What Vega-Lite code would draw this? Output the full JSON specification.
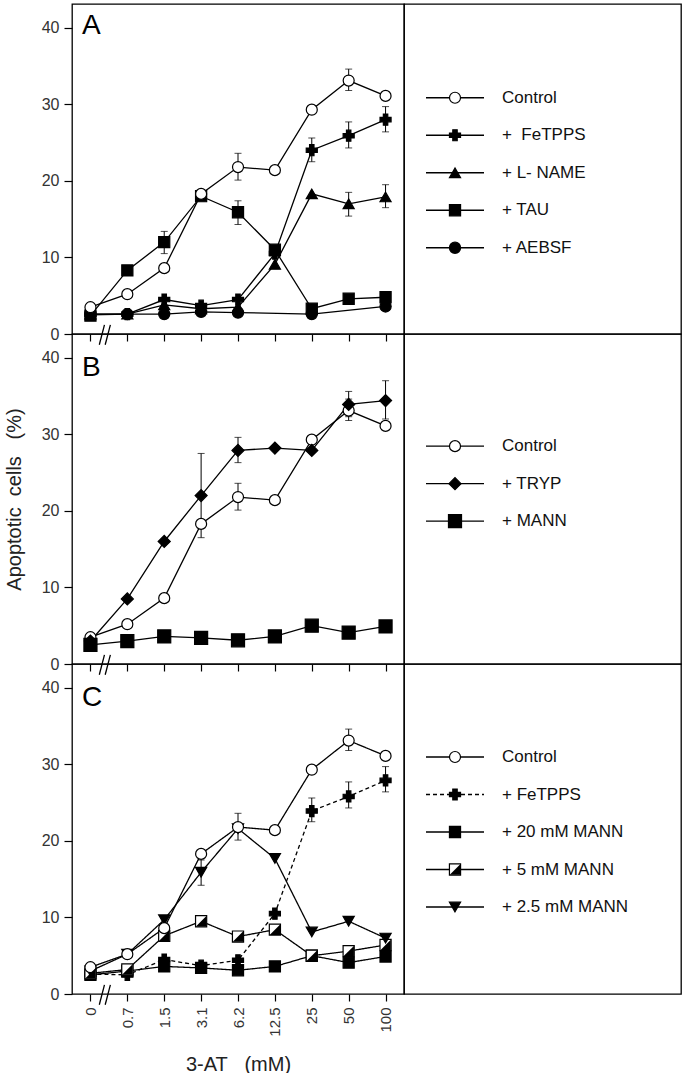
{
  "$schema": "https://vega.github.io/schema/vega-lite/v6.json",
  "padding": {"left": 3, "top": 3, "right": 0, "bottom": 0},
  "background": "white",
  "columns": 2,
  "spacing": 0,
  "bounds": "flush",
  "config": {
    "font": "Liberation Sans",
    "view": {"stroke": "black", "strokeWidth": 1.3},
    "axisX": {"tickSize": 7, "tickColor": "black", "tickWidth": 1.2, "domain": false, "grid": false, "labelFontSize": 15, "labelAngle": 270, "labelPadding": 6, "labelColor": "#333", "titleFontSize": 20, "titleFontWeight": "normal", "titlePadding": 18, "titleColor": "#222"},
    "axisY": {"tickSize": 8, "tickColor": "black", "tickWidth": 1.2, "domain": false, "grid": false, "labelFontSize": 16, "labelPadding": 5, "labelColor": "#333", "titleFontSize": 20, "titleFontWeight": "normal", "titlePadding": 17, "titleColor": "#222"}
  },
  "datasets": {
    "A": [
      {"s": "+ AEBSF", "i": 0, "y": 2.5}, {"s": "+ AEBSF", "i": 1, "y": 2.6}, {"s": "+ AEBSF", "i": 2, "y": 2.6}, {"s": "+ AEBSF", "i": 3, "y": 2.9}, {"s": "+ AEBSF", "i": 4, "y": 2.8}, {"s": "+ AEBSF", "i": 6, "y": 2.6}, {"s": "+ AEBSF", "i": 8, "y": 3.6},
      {"s": "+ L- NAME", "i": 0, "y": 2.6}, {"s": "+ L- NAME", "i": 1, "y": 2.6}, {"s": "+ L- NAME", "i": 2, "y": 3.8}, {"s": "+ L- NAME", "i": 3, "y": 3.3}, {"s": "+ L- NAME", "i": 4, "y": 3.5}, {"s": "+ L- NAME", "i": 5, "y": 9.1}, {"s": "+ L- NAME", "i": 6, "y": 18.3}, {"s": "+ L- NAME", "i": 7, "y": 17.0, "lo": 15.4, "hi": 18.5}, {"s": "+ L- NAME", "i": 8, "y": 17.9, "lo": 16.5, "hi": 19.5},
      {"s": "+\u00a0 FeTPPS", "i": 0, "y": 2.6}, {"s": "+\u00a0 FeTPPS", "i": 1, "y": 2.6}, {"s": "+\u00a0 FeTPPS", "i": 2, "y": 4.5}, {"s": "+\u00a0 FeTPPS", "i": 3, "y": 3.7}, {"s": "+\u00a0 FeTPPS", "i": 4, "y": 4.5}, {"s": "+\u00a0 FeTPPS", "i": 5, "y": 10.5}, {"s": "+\u00a0 FeTPPS", "i": 6, "y": 24.0, "lo": 22.5, "hi": 25.6}, {"s": "+\u00a0 FeTPPS", "i": 7, "y": 25.9, "lo": 24.3, "hi": 27.7}, {"s": "+\u00a0 FeTPPS", "i": 8, "y": 28.0, "lo": 26.4, "hi": 29.7},
      {"s": "+ TAU", "i": 0, "y": 2.4}, {"s": "+ TAU", "i": 1, "y": 8.3}, {"s": "+ TAU", "i": 2, "y": 12.0, "lo": 10.5, "hi": 13.4}, {"s": "+ TAU", "i": 3, "y": 18.0}, {"s": "+ TAU", "i": 4, "y": 15.9, "lo": 14.3, "hi": 17.4}, {"s": "+ TAU", "i": 5, "y": 11.0}, {"s": "+ TAU", "i": 6, "y": 3.3}, {"s": "+ TAU", "i": 7, "y": 4.6}, {"s": "+ TAU", "i": 8, "y": 4.8},
      {"s": "Control", "i": 0, "y": 3.5}, {"s": "Control", "i": 1, "y": 5.2}, {"s": "Control", "i": 2, "y": 8.6}, {"s": "Control", "i": 3, "y": 18.3}, {"s": "Control", "i": 4, "y": 21.8, "lo": 20.1, "hi": 23.6}, {"s": "Control", "i": 5, "y": 21.4}, {"s": "Control", "i": 6, "y": 29.3}, {"s": "Control", "i": 7, "y": 33.1, "lo": 31.8, "hi": 34.6}, {"s": "Control", "i": 8, "y": 31.1}
    ],
    "B": [
      {"s": "Control", "i": 0, "y": 3.5}, {"s": "Control", "i": 1, "y": 5.2}, {"s": "Control", "i": 2, "y": 8.6}, {"s": "Control", "i": 3, "y": 18.3}, {"s": "Control", "i": 4, "y": 21.8, "lo": 20.1, "hi": 23.6}, {"s": "Control", "i": 5, "y": 21.4}, {"s": "Control", "i": 6, "y": 29.3}, {"s": "Control", "i": 7, "y": 33.1, "lo": 31.8, "hi": 34.6}, {"s": "Control", "i": 8, "y": 31.1},
      {"s": "+ TRYP", "i": 0, "y": 3.0}, {"s": "+ TRYP", "i": 1, "y": 8.5}, {"s": "+ TRYP", "i": 2, "y": 16.0}, {"s": "+ TRYP", "i": 3, "y": 22.0, "lo": 16.5, "hi": 27.5}, {"s": "+ TRYP", "i": 4, "y": 27.9, "lo": 26.3, "hi": 29.6}, {"s": "+ TRYP", "i": 5, "y": 28.2}, {"s": "+ TRYP", "i": 6, "y": 27.9}, {"s": "+ TRYP", "i": 7, "y": 33.9, "lo": 32.3, "hi": 35.6}, {"s": "+ TRYP", "i": 8, "y": 34.4, "lo": 32.0, "hi": 37.0},
      {"s": "+ MANN", "i": 0, "y": 2.5}, {"s": "+ MANN", "i": 1, "y": 3.0}, {"s": "+ MANN", "i": 2, "y": 3.6}, {"s": "+ MANN", "i": 3, "y": 3.4}, {"s": "+ MANN", "i": 4, "y": 3.1}, {"s": "+ MANN", "i": 5, "y": 3.6}, {"s": "+ MANN", "i": 6, "y": 5.0}, {"s": "+ MANN", "i": 7, "y": 4.1}, {"s": "+ MANN", "i": 8, "y": 4.9}
    ],
    "C": [
      {"s": "+ FeTPPS", "i": 0, "y": 2.6}, {"s": "+ FeTPPS", "i": 1, "y": 2.5}, {"s": "+ FeTPPS", "i": 2, "y": 4.5}, {"s": "+ FeTPPS", "i": 3, "y": 3.7}, {"s": "+ FeTPPS", "i": 4, "y": 4.4}, {"s": "+ FeTPPS", "i": 5, "y": 10.5}, {"s": "+ FeTPPS", "i": 6, "y": 23.9, "lo": 22.5, "hi": 25.6}, {"s": "+ FeTPPS", "i": 7, "y": 25.8, "lo": 24.3, "hi": 27.7}, {"s": "+ FeTPPS", "i": 8, "y": 27.9, "lo": 26.4, "hi": 29.7},
      {"s": "+ 20 mM MANN", "i": 0, "y": 2.5}, {"s": "+ 20 mM MANN", "i": 1, "y": 3.0}, {"s": "+ 20 mM MANN", "i": 2, "y": 3.6}, {"s": "+ 20 mM MANN", "i": 3, "y": 3.4}, {"s": "+ 20 mM MANN", "i": 4, "y": 3.1}, {"s": "+ 20 mM MANN", "i": 5, "y": 3.6}, {"s": "+ 20 mM MANN", "i": 6, "y": 5.0}, {"s": "+ 20 mM MANN", "i": 7, "y": 4.1}, {"s": "+ 20 mM MANN", "i": 8, "y": 4.9},
      {"s": "+ 5 mM MANN", "i": 0, "y": 2.7}, {"s": "+ 5 mM MANN", "i": 1, "y": 3.2}, {"s": "+ 5 mM MANN", "i": 2, "y": 7.6}, {"s": "+ 5 mM MANN", "i": 3, "y": 9.5}, {"s": "+ 5 mM MANN", "i": 4, "y": 7.5}, {"s": "+ 5 mM MANN", "i": 5, "y": 8.4}, {"s": "+ 5 mM MANN", "i": 6, "y": 5.0}, {"s": "+ 5 mM MANN", "i": 7, "y": 5.6}, {"s": "+ 5 mM MANN", "i": 8, "y": 6.4},
      {"s": "+ 2.5 mM MANN", "i": 0, "y": 3.0}, {"s": "+ 2.5 mM MANN", "i": 1, "y": 5.2}, {"s": "+ 2.5 mM MANN", "i": 2, "y": 9.7}, {"s": "+ 2.5 mM MANN", "i": 3, "y": 15.9, "lo": 14.2, "hi": 17.5}, {"s": "+ 2.5 mM MANN", "i": 4, "y": 21.6}, {"s": "+ 2.5 mM MANN", "i": 5, "y": 17.7}, {"s": "+ 2.5 mM MANN", "i": 6, "y": 8.1}, {"s": "+ 2.5 mM MANN", "i": 7, "y": 9.5}, {"s": "+ 2.5 mM MANN", "i": 8, "y": 7.3},
      {"s": "Control", "i": 0, "y": 3.5}, {"s": "Control", "i": 1, "y": 5.2}, {"s": "Control", "i": 2, "y": 8.6}, {"s": "Control", "i": 3, "y": 18.3}, {"s": "Control", "i": 4, "y": 21.8, "lo": 20.1, "hi": 23.6}, {"s": "Control", "i": 5, "y": 21.4}, {"s": "Control", "i": 6, "y": 29.3}, {"s": "Control", "i": 7, "y": 33.1, "lo": 31.8, "hi": 34.6}, {"s": "Control", "i": 8, "y": 31.1}
    ],
    "LA": [{"s": "Control", "k": 1}, {"s": "+\u00a0 FeTPPS", "k": 2}, {"s": "+ L- NAME", "k": 3}, {"s": "+ TAU", "k": 4}, {"s": "+ AEBSF", "k": 5}],
    "LB": [{"s": "Control", "k": 1}, {"s": "+ TRYP", "k": 2}, {"s": "+ MANN", "k": 3}],
    "LC": [{"s": "Control", "k": 1}, {"s": "+ FeTPPS", "k": 2}, {"s": "+ 20 mM MANN", "k": 3}, {"s": "+ 5 mM MANN", "k": 4}, {"s": "+ 2.5 mM MANN", "k": 5}]
  },
  "resolve": {"scale": {"shape": "independent", "fill": "independent", "size": "independent", "strokeDash": "independent"}},
  "concat": [
    {
      "width": 332, "height": 330,
      "data": {"name": "A"},
      "layer": [
        {"transform": [{"filter": "isValid(datum.lo)"}], "mark": {"type": "rule", "color": "black", "strokeWidth": 1},
         "encoding": {"x": {"field": "i", "type": "quantitative", "scale": {"domain": [-0.5, 8.5], "nice": false, "zero": false}, "axis": {"values": [0, 1, 2, 3, 4, 5, 6, 7, 8], "labels": false, "title": null}},
                      "y": {"field": "lo", "type": "quantitative", "scale": {"domain": [0, 43.1], "nice": false, "zero": false}, "axis": {"values": [0, 10, 20, 30, 40], "title": null}},
                      "y2": {"field": "hi"}}},
        {"transform": [{"filter": "isValid(datum.lo)"}], "mark": {"type": "tick", "orient": "horizontal", "size": 7, "thickness": 1, "color": "black"},
         "encoding": {"x": {"field": "i", "type": "quantitative"}, "y": {"field": "lo", "type": "quantitative"}}},
        {"transform": [{"filter": "isValid(datum.hi)"}], "mark": {"type": "tick", "orient": "horizontal", "size": 7, "thickness": 1, "color": "black"},
         "encoding": {"x": {"field": "i", "type": "quantitative"}, "y": {"field": "hi", "type": "quantitative"}}},
        {"mark": {"type": "line", "color": "black", "strokeWidth": 1.3},
         "encoding": {"x": {"field": "i", "type": "quantitative"}, "y": {"field": "y", "type": "quantitative"}, "detail": {"field": "s"}}},
        {"mark": {"type": "point", "filled": true, "stroke": "black", "strokeWidth": 1.2, "opacity": 1},
         "encoding": {"x": {"field": "i", "type": "quantitative"}, "y": {"field": "y", "type": "quantitative"},
           "shape": {"field": "s", "type": "nominal", "legend": null, "scale": {"domain": ["Control", "+\u00a0 FeTPPS", "+ L- NAME", "+ TAU", "+ AEBSF"], "range": ["circle", "cross", "triangle-up", "square", "circle"]}},
           "fill": {"field": "s", "type": "nominal", "legend": null, "scale": {"domain": ["Control", "+\u00a0 FeTPPS", "+ L- NAME", "+ TAU", "+ AEBSF"], "range": ["white", "black", "black", "black", "black"]}},
           "size": {"field": "s", "type": "nominal", "legend": null, "scale": {"domain": ["Control", "+\u00a0 FeTPPS", "+ L- NAME", "+ TAU", "+ AEBSF"], "range": [121, 125, 140, 110, 121]}}}},
        {"data": {"values": [{"b": 1}]}, "mark": {"type": "rule", "color": "black", "strokeWidth": 1.3},
         "encoding": {"x": {"datum": 0.24, "type": "quantitative"}, "x2": {"datum": 0.38}, "y": {"datum": -1.4, "type": "quantitative"}, "y2": {"datum": 1.2}}},
        {"data": {"values": [{"b": 2}]}, "mark": {"type": "rule", "color": "black", "strokeWidth": 1.3},
         "encoding": {"x": {"datum": 0.4, "type": "quantitative"}, "x2": {"datum": 0.54}, "y": {"datum": -1.4, "type": "quantitative"}, "y2": {"datum": 1.2}}},
        {"data": {"values": [{"t": "A"}]}, "mark": {"type": "text", "align": "left", "baseline": "alphabetic", "fontSize": 28, "color": "black"},
         "encoding": {"x": {"datum": -0.23, "type": "quantitative"}, "y": {"datum": 39.2, "type": "quantitative"}, "text": {"field": "t"}}}
      ]
    },
    {
      "width": 277, "height": 330,
      "data": {"name": "LA"},
      "layer": [
        {"mark": {"type": "rule", "color": "black", "strokeWidth": 1.3},
         "encoding": {"x": {"datum": 22, "type": "quantitative", "scale": {"domain": [0, 277], "nice": false, "zero": false}, "axis": null}, "x2": {"datum": 80},
                      "y": {"field": "k", "type": "quantitative", "scale": {"domain": [-1.5, 7.3], "reverse": true, "nice": false, "zero": false}, "axis": null}}},
        {"mark": {"type": "point", "filled": true, "stroke": "black", "strokeWidth": 1.2, "opacity": 1},
         "encoding": {"x": {"datum": 51, "type": "quantitative", "axis": null}, "y": {"field": "k", "type": "quantitative", "axis": null},
           "shape": {"field": "s", "type": "nominal", "legend": null, "scale": {"domain": ["Control", "+\u00a0 FeTPPS", "+ L- NAME", "+ TAU", "+ AEBSF"], "range": ["circle", "cross", "triangle-up", "square", "circle"]}},
           "fill": {"field": "s", "type": "nominal", "legend": null, "scale": {"domain": ["Control", "+\u00a0 FeTPPS", "+ L- NAME", "+ TAU", "+ AEBSF"], "range": ["white", "black", "black", "black", "black"]}},
           "size": {"field": "s", "type": "nominal", "legend": null, "scale": {"domain": ["Control", "+\u00a0 FeTPPS", "+ L- NAME", "+ TAU", "+ AEBSF"], "range": [121, 125, 140, 110, 121]}}}},
        {"mark": {"type": "text", "align": "left", "baseline": "middle", "fontSize": 17, "color": "#111"},
         "encoding": {"x": {"datum": 98, "type": "quantitative", "axis": null}, "y": {"field": "k", "type": "quantitative", "axis": null}, "text": {"field": "s"}}}
      ]
    },
    {
      "width": 332, "height": 330,
      "data": {"name": "B"},
      "layer": [
        {"transform": [{"filter": "isValid(datum.lo)"}], "mark": {"type": "rule", "color": "black", "strokeWidth": 1},
         "encoding": {"x": {"field": "i", "type": "quantitative", "scale": {"domain": [-0.5, 8.5], "nice": false, "zero": false}, "axis": {"values": [0, 1, 2, 3, 4, 5, 6, 7, 8], "labels": false, "title": null}},
                      "y": {"field": "lo", "type": "quantitative", "scale": {"domain": [0, 43.1], "nice": false, "zero": false}, "axis": {"values": [0, 10, 20, 30, 40], "title": "Apoptotic\u00a0 cells\u00a0\u00a0 (%)"}},
                      "y2": {"field": "hi"}}},
        {"transform": [{"filter": "isValid(datum.lo)"}], "mark": {"type": "tick", "orient": "horizontal", "size": 7, "thickness": 1, "color": "black"},
         "encoding": {"x": {"field": "i", "type": "quantitative"}, "y": {"field": "lo", "type": "quantitative"}}},
        {"transform": [{"filter": "isValid(datum.hi)"}], "mark": {"type": "tick", "orient": "horizontal", "size": 7, "thickness": 1, "color": "black"},
         "encoding": {"x": {"field": "i", "type": "quantitative"}, "y": {"field": "hi", "type": "quantitative"}}},
        {"mark": {"type": "line", "color": "black", "strokeWidth": 1.3},
         "encoding": {"x": {"field": "i", "type": "quantitative"}, "y": {"field": "y", "type": "quantitative"}, "detail": {"field": "s"}}},
        {"mark": {"type": "point", "filled": true, "stroke": "black", "strokeWidth": 1.2, "opacity": 1},
         "encoding": {"x": {"field": "i", "type": "quantitative"}, "y": {"field": "y", "type": "quantitative"},
           "shape": {"field": "s", "type": "nominal", "legend": null, "scale": {"domain": ["Control", "+ TRYP", "+ MANN"], "range": ["circle", "diamond", "square"]}},
           "fill": {"field": "s", "type": "nominal", "legend": null, "scale": {"domain": ["Control", "+ TRYP", "+ MANN"], "range": ["white", "black", "black"]}},
           "size": {"field": "s", "type": "nominal", "legend": null, "scale": {"domain": ["Control", "+ TRYP", "+ MANN"], "range": [121, 170, 110]}}}},
        {"data": {"values": [{"b": 1}]}, "mark": {"type": "rule", "color": "black", "strokeWidth": 1.3},
         "encoding": {"x": {"datum": 0.24, "type": "quantitative"}, "x2": {"datum": 0.38}, "y": {"datum": -1.4, "type": "quantitative"}, "y2": {"datum": 1.2}}},
        {"data": {"values": [{"b": 2}]}, "mark": {"type": "rule", "color": "black", "strokeWidth": 1.3},
         "encoding": {"x": {"datum": 0.4, "type": "quantitative"}, "x2": {"datum": 0.54}, "y": {"datum": -1.4, "type": "quantitative"}, "y2": {"datum": 1.2}}},
        {"data": {"values": [{"t": "B"}]}, "mark": {"type": "text", "align": "left", "baseline": "alphabetic", "fontSize": 28, "color": "black"},
         "encoding": {"x": {"datum": -0.23, "type": "quantitative"}, "y": {"datum": 37.6, "type": "quantitative"}, "text": {"field": "t"}}}
      ]
    },
    {
      "width": 277, "height": 330,
      "data": {"name": "LB"},
      "layer": [
        {"mark": {"type": "rule", "color": "black", "strokeWidth": 1.3},
         "encoding": {"x": {"datum": 22, "type": "quantitative", "scale": {"domain": [0, 277], "nice": false, "zero": false}, "axis": null}, "x2": {"datum": 80},
                      "y": {"field": "k", "type": "quantitative", "scale": {"domain": [-1.99, 6.81], "reverse": true, "nice": false, "zero": false}, "axis": null}}},
        {"mark": {"type": "point", "filled": true, "stroke": "black", "strokeWidth": 1.2, "opacity": 1},
         "encoding": {"x": {"datum": 51, "type": "quantitative", "axis": null}, "y": {"field": "k", "type": "quantitative", "axis": null},
           "shape": {"field": "s", "type": "nominal", "legend": null, "scale": {"domain": ["Control", "+ TRYP", "+ MANN"], "range": ["circle", "diamond", "square"]}},
           "fill": {"field": "s", "type": "nominal", "legend": null, "scale": {"domain": ["Control", "+ TRYP", "+ MANN"], "range": ["white", "black", "black"]}},
           "size": {"field": "s", "type": "nominal", "legend": null, "scale": {"domain": ["Control", "+ TRYP", "+ MANN"], "range": [121, 170, 110]}}}},
        {"mark": {"type": "text", "align": "left", "baseline": "middle", "fontSize": 17, "color": "#111"},
         "encoding": {"x": {"datum": 98, "type": "quantitative", "axis": null}, "y": {"field": "k", "type": "quantitative", "axis": null}, "text": {"field": "s"}}}
      ]
    },
    {
      "width": 332, "height": 330,
      "data": {"name": "C"},
      "layer": [
        {"transform": [{"filter": "isValid(datum.lo)"}], "mark": {"type": "rule", "color": "black", "strokeWidth": 1},
         "encoding": {"x": {"field": "i", "type": "quantitative", "scale": {"domain": [-0.5, 8.5], "nice": false, "zero": false}, "axis": {"values": [0, 1, 2, 3, 4, 5, 6, 7, 8], "labelExpr": "['0','0.7','1.5','3.1','6.2','12.5','25','50','100'][datum.value]", "title": "3-AT\u00a0\u00a0 (mM)"}},
                      "y": {"field": "lo", "type": "quantitative", "scale": {"domain": [0, 43.1], "nice": false, "zero": false}, "axis": {"values": [0, 10, 20, 30, 40], "title": null}},
                      "y2": {"field": "hi"}}},
        {"transform": [{"filter": "isValid(datum.lo)"}], "mark": {"type": "tick", "orient": "horizontal", "size": 7, "thickness": 1, "color": "black"},
         "encoding": {"x": {"field": "i", "type": "quantitative"}, "y": {"field": "lo", "type": "quantitative"}}},
        {"transform": [{"filter": "isValid(datum.hi)"}], "mark": {"type": "tick", "orient": "horizontal", "size": 7, "thickness": 1, "color": "black"},
         "encoding": {"x": {"field": "i", "type": "quantitative"}, "y": {"field": "hi", "type": "quantitative"}}},
        {"mark": {"type": "line", "color": "black", "strokeWidth": 1.3},
         "encoding": {"x": {"field": "i", "type": "quantitative"}, "y": {"field": "y", "type": "quantitative"}, "detail": {"field": "s"},
           "strokeDash": {"field": "s", "type": "nominal", "legend": null, "scale": {"domain": ["Control", "+ FeTPPS", "+ 20 mM MANN", "+ 5 mM MANN", "+ 2.5 mM MANN"], "range": [[1, 0], [4, 3], [1, 0], [1, 0], [1, 0]]}}}},
        {"mark": {"type": "point", "filled": true, "stroke": "black", "strokeWidth": 1.2, "opacity": 1},
         "encoding": {"x": {"field": "i", "type": "quantitative"}, "y": {"field": "y", "type": "quantitative"},
           "shape": {"field": "s", "type": "nominal", "legend": null, "scale": {"domain": ["Control", "+ FeTPPS", "+ 20 mM MANN", "+ 5 mM MANN", "+ 2.5 mM MANN"], "range": ["circle", "cross", "square", "square", "triangle-down"]}},
           "fill": {"field": "s", "type": "nominal", "legend": null, "scale": {"domain": ["Control", "+ FeTPPS", "+ 20 mM MANN", "+ 5 mM MANN", "+ 2.5 mM MANN"], "range": ["white", "black", "black", "white", "black"]}},
           "size": {"field": "s", "type": "nominal", "legend": null, "scale": {"domain": ["Control", "+ FeTPPS", "+ 20 mM MANN", "+ 5 mM MANN", "+ 2.5 mM MANN"], "range": [121, 125, 110, 110, 140]}}}},
        {"transform": [{"filter": "datum.s === '+ 5 mM MANN'"}], "mark": {"type": "point", "filled": true, "shape": "M1,-1L1,1L-1,1Z", "color": "black", "size": 110, "opacity": 1},
         "encoding": {"x": {"field": "i", "type": "quantitative"}, "y": {"field": "y", "type": "quantitative"}}},
        {"data": {"values": [{"b": 1}]}, "mark": {"type": "rule", "color": "black", "strokeWidth": 1.3},
         "encoding": {"x": {"datum": 0.24, "type": "quantitative"}, "x2": {"datum": 0.38}, "y": {"datum": -1.4, "type": "quantitative"}, "y2": {"datum": 1.2}}},
        {"data": {"values": [{"b": 2}]}, "mark": {"type": "rule", "color": "black", "strokeWidth": 1.3},
         "encoding": {"x": {"datum": 0.4, "type": "quantitative"}, "x2": {"datum": 0.54}, "y": {"datum": -1.4, "type": "quantitative"}, "y2": {"datum": 1.2}}},
        {"data": {"values": [{"t": "C"}]}, "mark": {"type": "text", "align": "left", "baseline": "alphabetic", "fontSize": 28, "color": "black"},
         "encoding": {"x": {"datum": -0.23, "type": "quantitative"}, "y": {"datum": 37.6, "type": "quantitative"}, "text": {"field": "t"}}}
      ]
    },
    {
      "width": 277, "height": 330,
      "data": {"name": "LC"},
      "layer": [
        {"mark": {"type": "rule", "color": "black", "strokeWidth": 1.3},
         "encoding": {"x": {"datum": 22, "type": "quantitative", "scale": {"domain": [0, 277], "nice": false, "zero": false}, "axis": null}, "x2": {"datum": 80},
                      "y": {"field": "k", "type": "quantitative", "scale": {"domain": [-1.48, 7.32], "reverse": true, "nice": false, "zero": false}, "axis": null},
                      "strokeDash": {"field": "s", "type": "nominal", "legend": null, "scale": {"domain": ["Control", "+ FeTPPS", "+ 20 mM MANN", "+ 5 mM MANN", "+ 2.5 mM MANN"], "range": [[1, 0], [4, 3], [1, 0], [1, 0], [1, 0]]}}}},
        {"mark": {"type": "point", "filled": true, "stroke": "black", "strokeWidth": 1.2, "opacity": 1},
         "encoding": {"x": {"datum": 51, "type": "quantitative", "axis": null}, "y": {"field": "k", "type": "quantitative", "axis": null},
           "shape": {"field": "s", "type": "nominal", "legend": null, "scale": {"domain": ["Control", "+ FeTPPS", "+ 20 mM MANN", "+ 5 mM MANN", "+ 2.5 mM MANN"], "range": ["circle", "cross", "square", "square", "triangle-down"]}},
           "fill": {"field": "s", "type": "nominal", "legend": null, "scale": {"domain": ["Control", "+ FeTPPS", "+ 20 mM MANN", "+ 5 mM MANN", "+ 2.5 mM MANN"], "range": ["white", "black", "black", "white", "black"]}},
           "size": {"field": "s", "type": "nominal", "legend": null, "scale": {"domain": ["Control", "+ FeTPPS", "+ 20 mM MANN", "+ 5 mM MANN", "+ 2.5 mM MANN"], "range": [121, 125, 110, 110, 140]}}}},
        {"transform": [{"filter": "datum.s === '+ 5 mM MANN'"}], "mark": {"type": "point", "filled": true, "shape": "M1,-1L1,1L-1,1Z", "color": "black", "size": 110, "opacity": 1},
         "encoding": {"x": {"datum": 51, "type": "quantitative", "axis": null}, "y": {"field": "k", "type": "quantitative", "axis": null}}},
        {"mark": {"type": "text", "align": "left", "baseline": "middle", "fontSize": 17, "color": "#111"},
         "encoding": {"x": {"datum": 98, "type": "quantitative", "axis": null}, "y": {"field": "k", "type": "quantitative", "axis": null}, "text": {"field": "s"}}}
      ]
    }
  ]
}
